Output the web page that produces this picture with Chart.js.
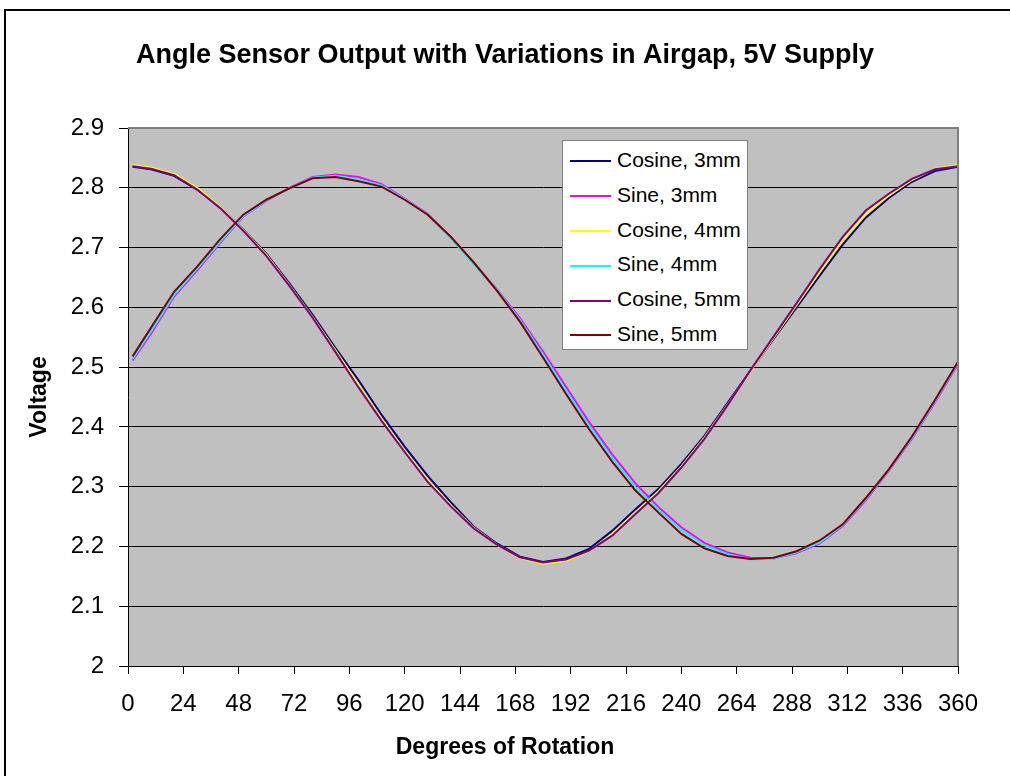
<!DOCTYPE html>
<html lang="en">
<head>
  <meta charset="UTF-8" />
  <title>Angle Sensor Output</title>
  <script src="https://cdn.jsdelivr.net/npm/chart.js"></script>
  <style>
    body {
      margin: 0;
      width: 1010px;
      height: 776px;
      overflow: hidden;
      background: #fff;
      font-family: 'Liberation Sans', Arial, sans-serif;
      position: relative;
    }
    #frame {
      position: absolute;
      left: 4px;
      top: 9px;
      width: 1100px;
      height: 900px;
      border: 2px solid #000;
    }
    #chart {
      position: absolute;
      left: 0;
      top: 0;
    }
    #legend {
      position: absolute;
      left: 562px;
      top: 140px;
      width: 184px;
      height: 208px;
      background: #fff;
      border: 1px solid #808080;
    }
    .item {
      position: absolute;
      left: 7px;
      height: 22px;
      font-size: 21px;
      line-height: 22px;
      color: #000;
      white-space: nowrap;
    }
    .item span.swatch {
      display: inline-block;
      width: 41px;
      height: 2px;
      vertical-align: middle;
      margin-right: 6px;
    }
  </style>
</head>
<body>
  <div id="frame"></div>
  <canvas id="chart" width="1010" height="776"></canvas>
  <div id="legend"></div>

  <script>
    // angle samples (degrees)
    const angles = [2, 10, 20, 30, 40, 50, 60, 70, 80, 90, 100, 110, 120, 130, 140, 150, 160, 170, 180,
                    190, 200, 210, 220, 230, 240, 250, 260, 270, 280, 290, 300, 310, 320, 330, 340, 350, 360];

    const cosine3 = [2.835, 2.831, 2.820, 2.797, 2.767, 2.730, 2.690, 2.640, 2.588, 2.532, 2.478, 2.420, 2.367,
                     2.318, 2.274, 2.233, 2.205, 2.183, 2.174, 2.180, 2.196, 2.226, 2.262, 2.296, 2.338, 2.385,
                     2.440, 2.494, 2.547, 2.600, 2.653, 2.705, 2.750, 2.783, 2.810, 2.828, 2.835];
    const sine3   = [2.511, 2.556, 2.618, 2.662, 2.708, 2.752, 2.778, 2.800, 2.818, 2.822, 2.818, 2.806, 2.782,
                     2.756, 2.717, 2.673, 2.630, 2.582, 2.526, 2.467, 2.408, 2.354, 2.306, 2.266, 2.232, 2.206,
                     2.190, 2.181, 2.180, 2.189, 2.205, 2.234, 2.277, 2.327, 2.380, 2.441, 2.505];
    const cosine4 = [2.838, 2.834, 2.823, 2.800, 2.768, 2.729, 2.688, 2.637, 2.584, 2.528, 2.470, 2.413, 2.360,
                     2.311, 2.269, 2.231, 2.203, 2.181, 2.171, 2.176, 2.192, 2.221, 2.256, 2.292, 2.334, 2.382,
                     2.437, 2.493, 2.549, 2.604, 2.659, 2.712, 2.756, 2.787, 2.813, 2.832, 2.838];
    const sine4   = [2.514, 2.560, 2.621, 2.665, 2.710, 2.753, 2.779, 2.799, 2.817, 2.820, 2.814, 2.804, 2.781,
                     2.755, 2.716, 2.672, 2.629, 2.579, 2.521, 2.461, 2.402, 2.348, 2.300, 2.262, 2.227, 2.202,
                     2.187, 2.178, 2.180, 2.190, 2.207, 2.236, 2.279, 2.328, 2.382, 2.443, 2.507];
    const cosine5 = [2.836, 2.832, 2.821, 2.797, 2.766, 2.728, 2.686, 2.636, 2.583, 2.525, 2.466, 2.410, 2.358,
                     2.308, 2.267, 2.230, 2.203, 2.182, 2.173, 2.178, 2.193, 2.218, 2.254, 2.289, 2.332, 2.380,
                     2.436, 2.495, 2.551, 2.607, 2.664, 2.718, 2.762, 2.790, 2.815, 2.831, 2.836];
    const sine5   = [2.518, 2.566, 2.626, 2.668, 2.714, 2.755, 2.780, 2.799, 2.816, 2.818, 2.811, 2.802, 2.780,
                     2.755, 2.718, 2.675, 2.628, 2.576, 2.516, 2.455, 2.396, 2.342, 2.294, 2.257, 2.221, 2.197,
                     2.184, 2.179, 2.181, 2.192, 2.210, 2.237, 2.281, 2.329, 2.384, 2.445, 2.509];

    const seriesNames  = ['Cosine, 3mm', 'Sine, 3mm', 'Cosine, 4mm', 'Sine, 4mm', 'Cosine, 5mm', 'Sine, 5mm'];
    const seriesValues = [cosine3, sine3, cosine4, sine4, cosine5, sine5];
    const seriesColors = ['#000080', '#FF00FF', '#FFFF00', '#00FFFF', '#800080', '#800000'];

    const xTicks = [0, 24, 48, 72, 96, 120, 144, 168, 192, 216, 240, 264, 288, 312, 336, 360];
    const yTicks = ['2', '2.1', '2.2', '2.3', '2.4', '2.5', '2.6', '2.7', '2.8', '2.9'];

    const FONT = "'Liberation Sans', Arial, sans-serif";

    // grey plot area + grey top/right edge like the old spreadsheet look
    const plotBg = {
      id: 'plotBg',
      beforeDraw(chart) {
        const { ctx, chartArea: a } = chart;
        ctx.save();
        ctx.fillStyle = '#C0C0C0';
        ctx.fillRect(a.left, a.top, a.right - a.left, a.bottom - a.top);
        ctx.restore();
      },
      afterDatasetsDraw(chart) {
        const { ctx, chartArea: a } = chart;
        ctx.save();
        ctx.strokeStyle = '#808080';
        ctx.lineWidth = 2;
        ctx.beginPath();
        ctx.moveTo(a.left, a.top);
        ctx.lineTo(a.right, a.top);
        ctx.lineTo(a.right, a.bottom);
        ctx.stroke();
        ctx.restore();
      }
    };

    const datasets = seriesNames.map((name, i) => ({
      label: name,
      data: angles.map((a, j) => ({ x: a, y: seriesValues[i][j] })),
      borderColor: seriesColors[i],
      backgroundColor: seriesColors[i],
      borderWidth: 2,
      pointRadius: 0,
      tension: 0,
      order: seriesNames.length - i
    }));

    new Chart(document.getElementById('chart'), {
      type: 'line',
      data: { datasets },
      plugins: [plotBg],
      options: {
        responsive: false,
        animation: false,
        layout: { padding: 0 },
        plugins: {
          legend: { display: false },
          tooltip: { enabled: false },
          title: {
            display: true,
            text: 'Angle Sensor Output with Variations in Airgap, 5V Supply',
            color: '#000',
            font: { family: FONT, size: 27, weight: 'bold', lineHeight: 1.2 },
            padding: { top: 39, bottom: 56.6 }
          },
          // x axis title, centred on the whole chart like the original
          subtitle: {
            display: true,
            position: 'bottom',
            text: 'Degrees of Rotation',
            color: '#000',
            font: { family: FONT, size: 23, weight: 'bold', lineHeight: 1.2 },
            padding: { top: 4, bottom: 15 }
          }
        },
        scales: {
          x: {
            type: 'linear',
            min: 0,
            max: 360,
            afterBuildTicks: s => { s.ticks = xTicks.map(v => ({ value: v })); },
            afterFit: s => { s.height = 110 - (4 + 15 + 23 * 1.2); },
            ticks: {
              color: '#000',
              font: { family: FONT, size: 24 },
              padding: 16,
              maxRotation: 0,
              autoSkip: false
            },
            grid: { drawOnChartArea: false, color: '#000', tickLength: 8, tickWidth: 1 },
            border: { color: '#000', width: 1 }
          },
          y: {
            min: 2,
            max: 2.9,
            afterBuildTicks: s => { s.ticks = yTicks.map(t => ({ value: parseFloat(t) })); },
            afterFit: s => { s.width = 128; },
            ticks: {
              color: '#000',
              font: { family: FONT, size: 24 },
              padding: 15,
              callback: (v, i) => yTicks[i]
            },
            grid: { color: '#000', lineWidth: 1, tickLength: 9 },
            border: { color: '#000', width: 1 },
            title: {
              display: true,
              text: 'Voltage',
              color: '#000',
              font: { family: FONT, size: 23, weight: 'bold' },
              padding: { top: 26 }
            }
          },
          // empty right margin so the chart title centres on the full width
          yRight: {
            position: 'right',
            min: 2,
            max: 2.9,
            afterFit: s => { s.width = 52; },
            ticks: { display: false },
            grid: { display: false },
            border: { display: false }
          }
        }
      }
    });

    // legend inside the plot, built from the series arrays
    const legend = document.getElementById('legend');
    seriesNames.forEach((name, i) => {
      const row = document.createElement('div');
      row.className = 'item';
      row.style.top = (8 + i * 34.8) + 'px';
      row.innerHTML = '<span class="swatch" style="background:' + seriesColors[i] + '"></span>' + name;
      legend.appendChild(row);
    });
  </script>
</body>
</html>
